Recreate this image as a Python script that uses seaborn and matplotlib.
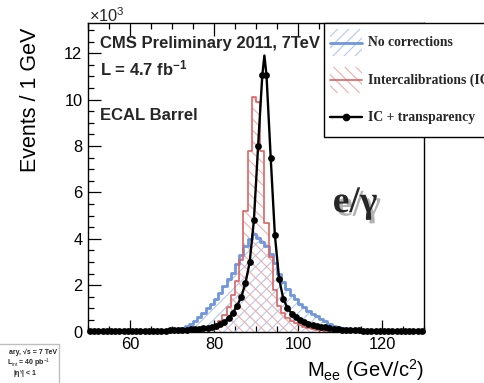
import numpy as np
import pandas as pd
import matplotlib
matplotlib.use("Agg")
import matplotlib.pyplot as plt
import seaborn as sns
from matplotlib.patches import Rectangle
from matplotlib.lines import Line2D
from matplotlib.ticker import MultipleLocator
import matplotlib.patheffects as pe

# ---------------- data (thousands of events per 1 GeV bin) ----------------
bin_edges = list(range(50, 131))
bin_centers = [e + 0.5 for e in range(50, 130)]

no_corrections = [
    0.03, 0.03, 0.03, 0.03, 0.03, 0.04, 0.04, 0.04, 0.04, 0.04,
    0.05, 0.05, 0.05, 0.05, 0.06, 0.06, 0.06, 0.07, 0.07, 0.08,
    0.10, 0.13, 0.18, 0.25, 0.33, 0.45, 0.62, 0.80, 1.00, 1.20,
    1.40, 1.65, 1.95, 2.25, 2.55, 2.90, 3.30, 3.70, 4.00, 4.20,
    4.05, 3.85, 3.70, 3.35, 2.95, 2.50, 2.15, 1.85, 1.60, 1.40,
    1.20, 1.05, 0.90, 0.78, 0.66, 0.55, 0.45, 0.35, 0.26, 0.19,
    0.14, 0.10, 0.08, 0.07, 0.06, 0.06, 0.05, 0.05, 0.05, 0.04,
    0.04, 0.04, 0.04, 0.04, 0.03, 0.03, 0.03, 0.03, 0.03, 0.03,
]
intercalib = [
    0.02, 0.02, 0.02, 0.02, 0.02, 0.02, 0.02, 0.02, 0.02, 0.02,
    0.02, 0.02, 0.02, 0.02, 0.03, 0.03, 0.03, 0.03, 0.03, 0.03,
    0.04, 0.04, 0.05, 0.05, 0.06, 0.07, 0.08, 0.10, 0.14, 0.20,
    0.30, 0.45, 0.70, 1.05, 1.60, 2.20, 3.10, 5.20, 7.80, 10.10,
    9.90, 7.80, 4.70, 3.20, 1.80, 1.10, 0.80, 0.60, 0.48, 0.38,
    0.28, 0.20, 0.15, 0.11, 0.08, 0.06, 0.05, 0.04, 0.04, 0.03,
    0.03, 0.03, 0.03, 0.03, 0.03, 0.02, 0.02, 0.02, 0.02, 0.02,
    0.02, 0.02, 0.02, 0.02, 0.02, 0.02, 0.02, 0.02, 0.02, 0.02,
]
ic_transparency = [
    0.03, 0.03, 0.03, 0.03, 0.03, 0.03, 0.03, 0.03, 0.03, 0.03,
    0.04, 0.04, 0.04, 0.04, 0.04, 0.05, 0.05, 0.05, 0.05, 0.06,
    0.06, 0.07, 0.08, 0.09, 0.10, 0.11, 0.12, 0.14, 0.17, 0.20,
    0.25, 0.32, 0.42, 0.58, 0.82, 1.12, 1.50, 2.10, 3.00, 4.80,
    8.00, 11.05, 11.05, 7.50, 4.15, 2.28, 1.42, 1.02, 0.78, 0.62,
    0.50, 0.42, 0.35, 0.30, 0.26, 0.22, 0.19, 0.16, 0.13, 0.11,
    0.09, 0.08, 0.07, 0.06, 0.06, 0.05, 0.05, 0.05, 0.04, 0.04,
    0.04, 0.04, 0.04, 0.04, 0.03, 0.03, 0.03, 0.03, 0.03, 0.03,
]
# apex of the smoothed curve drawn through the IC + transparency points
curve_peak_x = 92.0
curve_peak_y = 11.9

x_ticks = [60, 80, 100, 120]
y_ticks = [0, 2, 4, 6, 8, 10, 12]

# ---------------- style ----------------
sns.set_theme(style="ticks")
plt.rcParams['font.family'] = ['Liberation Sans', 'DejaVu Sans']
plt.rcParams['mathtext.fontset'] = 'custom'
plt.rcParams['mathtext.rm'] = 'Liberation Sans'
plt.rcParams['mathtext.it'] = 'Liberation Sans:italic'
plt.rcParams['mathtext.bf'] = 'Liberation Sans:bold'
plt.rcParams['hatch.linewidth'] = 0.8

W, H = 485, 383
fig = plt.figure(figsize=(W / 100, H / 100), dpi=100)


def fx(x):
    return x / W


def fy(y):
    return 1 - y / H


L, R, T, B = 88, 424, 23, 331.7
ax = fig.add_axes([fx(L), fy(B), (R - L) / W, (B - T) / H])

BLUE_L, BLUE_H = "#7096dc", "#b4c8f0"
RED_L, RED_H = "#dc6464", "#f2acac"

for vals, lc, hc, hatch, lw in [
    (no_corrections, BLUE_L, BLUE_H, "///", 2.0),
    (intercalib, RED_L, RED_H, "\\\\\\", 1.2),
]:
    sns.histplot(x=bin_centers, weights=vals, bins=bin_edges, element="step",
                 fill=True, color=hc, facecolor="none", edgecolor=hc,
                 hatch=hatch, linewidth=0, ax=ax)
    sns.histplot(x=bin_centers, weights=vals, bins=bin_edges, element="step",
                 fill=False, color=lc, linewidth=lw, ax=ax)

curve = pd.DataFrame({"x": bin_centers + [curve_peak_x],
                      "y": ic_transparency + [curve_peak_y]}).sort_values("x")
sns.lineplot(data=curve, x="x", y="y", color="black", linewidth=1.7,
             ax=ax, sort=False, clip_on=False, zorder=5)
sns.scatterplot(x=bin_centers, y=ic_transparency, color="black", s=24,
                linewidth=0, ax=ax, clip_on=False, zorder=6)

ax.set_xlim(50, 130)
ax.set_ylim(0, 13.3)
ax.set_xticks(x_ticks)
ax.set_yticks(y_ticks)
ax.set_xticklabels([str(v) for v in x_ticks])
ax.set_yticklabels([str(v) for v in y_ticks])
ax.xaxis.set_minor_locator(MultipleLocator(5))
ax.yaxis.set_minor_locator(MultipleLocator(0.5))
ax.tick_params(which='both', direction='in', top=True, right=False,
               color='black', width=0.9, labelsize=11.8, labelcolor='black')
ax.tick_params(which='major', length=9, pad=4)
ax.tick_params(which='minor', length=4.5)
for s in ax.spines.values():
    s.set_color('black')
    s.set_linewidth(1.0)

ax.set_ylabel("Events / 1 GeV", fontsize=15.5, color='black', loc='top')
ax.yaxis.set_label_coords(-0.14, (B - 28) / (B - T))
ax.set_xlabel("M$_{\\mathrm{ee}}$ (GeV/c$^{\\mathrm{2}}$)", fontsize=14.5,
              color='black', loc='right')
ax.xaxis.set_label_coords(1.0, -(357 - B) / (B - T))

fig.text(fx(89), fy(22.5), "×10$^{\\mathrm{3}}$", fontsize=11.8,
         va='baseline', ha='left')

# text inside the frame
fig.text(fx(100), fy(48), "CMS Preliminary 2011, 7TeV", fontsize=12,
         fontweight='bold', va='baseline')
fig.text(fx(100), fy(75), "L = 4.7 fb$^{\\mathbf{-1}}$", fontsize=12,
         fontweight='bold', va='baseline')
fig.text(fx(100), fy(120), "ECAL Barrel", fontsize=12,
         fontweight='bold', va='baseline')

fig.text(fx(355), fy(212), "e/γ", fontsize=27, fontweight='bold',
         family=['Liberation Serif', 'DejaVu Serif'], ha='center',
         va='baseline',
         path_effects=[pe.withSimplePatchShadow(offset=(2.5, -2.5),
                                                shadow_rgbFace='0.5',
                                                alpha=0.6)])

# legend box (extends past the right edge, as in the original)
fig.patches.append(Rectangle((fx(324), fy(137.3)), fx(500 - 324),
                             (137.3 - 23) / H, transform=fig.transFigure,
                             facecolor='white', edgecolor='black',
                             linewidth=1.0, zorder=10))
serif = ['Liberation Serif', 'DejaVu Serif']
entries = [("No corrections", BLUE_L, BLUE_H, "///", 42.5, 2.0),
           ("Intercalibrations (IC)", RED_L, RED_H, "\\\\\\", 80, 1.2)]
for label, lc, hc, hatch, yc, lw in entries:
    fig.patches.append(Rectangle((fx(330), fy(yc + 13)), fx(32), 26 / H,
                                 transform=fig.transFigure, facecolor='none',
                                 edgecolor=hc, hatch=hatch, linewidth=0,
                                 zorder=11))
    fig.lines.append(Line2D([fx(330), fx(362)], [fy(yc), fy(yc)],
                            transform=fig.transFigure, color=lc,
                            linewidth=lw, zorder=12))
    fig.text(fx(368), fy(yc), label, fontsize=9.8, fontweight='bold',
             family=serif, va='center', ha='left', zorder=12)
fig.lines.append(Line2D([fx(330), fx(362)], [fy(117.3), fy(117.3)],
                        transform=fig.transFigure, color='black',
                        linewidth=1.7, zorder=12))
fig.lines.append(Line2D([fx(346)], [fy(117.3)], transform=fig.transFigure,
                        color='black', marker='o', markersize=4.5,
                        linewidth=0, zorder=13))
fig.text(fx(368), fy(117.3), "IC + transparency", fontsize=9.8,
         fontweight='bold', family=serif, va='center', ha='left', zorder=12)

# clipped remnant of another pad (bottom-left corner)
fig.lines.append(Line2D([0, fx(59)], [fy(344), fy(344)],
                        transform=fig.transFigure, color='0.75', linewidth=1))
fig.lines.append(Line2D([fx(59), fx(59)], [fy(344), 0],
                        transform=fig.transFigure, color='0.75', linewidth=1))
fig.text(fx(57), fy(354), "ary, √s = 7 TeV", fontsize=5,
         fontweight='bold', ha='right', va='baseline')
fig.text(fx(50), fy(366), "L$_{\\mathrm{int}}$ = 40 pb$^{\\mathrm{-1}}$",
         fontsize=5, fontweight='bold', ha='right', va='baseline')
fig.text(fx(13), fy(377), "|η$^{\\mathrm{γ}}$| < 1", fontsize=5,
         fontweight='bold', ha='left', va='baseline')

fig.savefig("out.png", dpi=100)
